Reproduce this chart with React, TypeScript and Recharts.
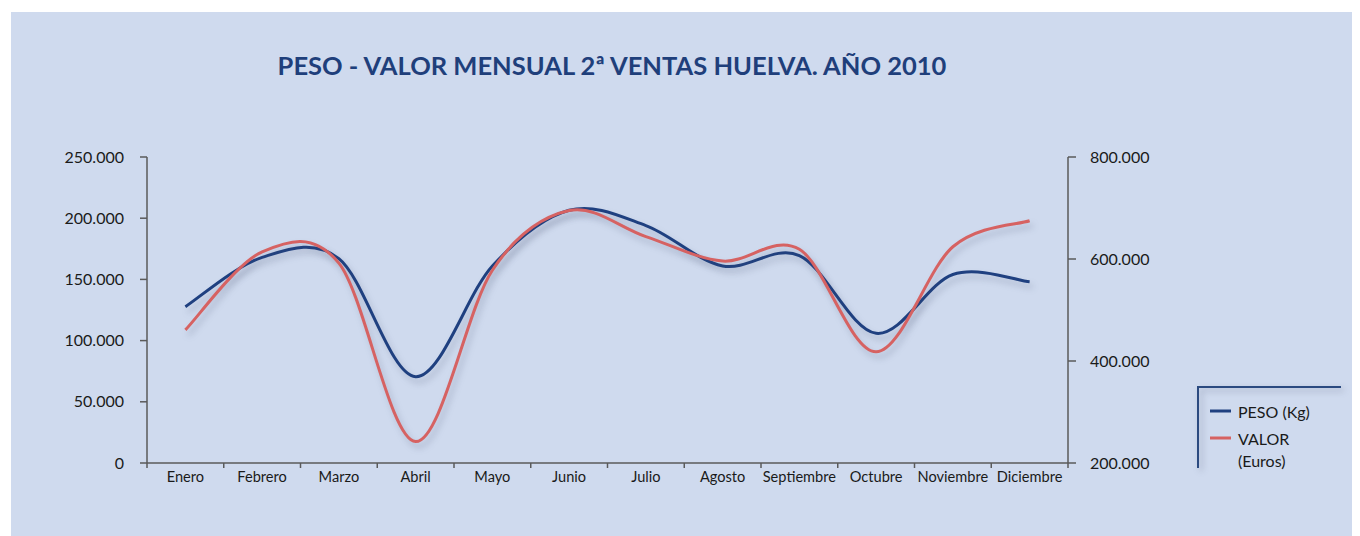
import React from 'react';
import { LineChart, Line, XAxis, YAxis } from 'recharts';

const MONTHS = [
  'Enero', 'Febrero', 'Marzo', 'Abril', 'Mayo', 'Junio',
  'Julio', 'Agosto', 'Septiembre', 'Octubre', 'Noviembre', 'Diciembre'
];

// PESO (Kg) - left axis
const PESO_KG = [127700, 168000, 167000, 70500, 161000, 206500, 194000, 161000, 169500, 106000, 154000, 148000];

// VALOR (Euros) - right axis
const VALOR_EUR = [461000, 614000, 592000, 242000, 578000, 695000, 644000, 596000, 619000, 418000, 624000, 675000];

const PESO_TICKS = [0, 50000, 100000, 150000, 200000, 250000];
const VALOR_TICKS = [200000, 400000, 600000, 800000];

const BLUE = '#1f4080';
const RED = '#d66262';
const AXIS = '#5a5a5a';
const TEXT = '#1a1a1a';
const FONT = 'Lato, "Open Sans", sans-serif';

const fmt = (v: number) => String(v).replace(/\B(?=(\d{3})+(?!\d))/g, '.');

// smooth line like the spreadsheet one (catmull-rom through every point)
const smoothCurve = (context: any) => {
  let pts: number[][] = [];
  return {
    areaStart() {},
    areaEnd() {},
    lineStart() {
      pts = [];
    },
    point(x: number, y: number) {
      pts.push([+x, +y]);
    },
    lineEnd() {
      if (!pts.length) return;
      context.moveTo(pts[0][0], pts[0][1]);
      for (let i = 0; i < pts.length - 1; i++) {
        const p0 = pts[i - 1] || pts[i];
        const p1 = pts[i];
        const p2 = pts[i + 1];
        const p3 = pts[i + 2] || p2;
        context.bezierCurveTo(
          p1[0] + (p2[0] - p0[0]) / 6,
          p1[1] + (p2[1] - p0[1]) / 6,
          p2[0] - (p3[0] - p1[0]) / 6,
          p2[1] - (p3[1] - p1[1]) / 6,
          p2[0],
          p2[1]
        );
      }
    }
  };
};

const MonthTick = (props: any) => {
  const { x, y, payload, index } = props;
  const half = payload && payload.offset ? payload.offset : 0;
  return (
    <g>
      <line x1={x - half} x2={x - half} y1={y - 9} y2={y - 4} stroke={AXIS} strokeWidth={1.5} />
      {index === MONTHS.length - 1 && (
        <line x1={x + half} x2={x + half} y1={y - 9} y2={y - 4} stroke={AXIS} strokeWidth={1.5} />
      )}
      <text x={x} y={y} dy="0.71em" textAnchor="middle" fill={TEXT} fontSize={14.6} fontFamily={FONT}>
        {payload.value}
      </text>
    </g>
  );
};

const App: React.FC = () => {
  const data = MONTHS.map((mes, i) => ({ mes, peso: PESO_KG[i], valor: VALOR_EUR[i] }));

  return (
    <div style={{ position: 'relative', width: 1360, height: 536, background: '#ffffff', overflow: 'hidden' }}>
      <style>{`
        body { margin: 0; }
        .shadow-line path { filter: drop-shadow(3px 5px 3px rgba(70, 80, 110, 0.28)); }
      `}</style>
      <div style={{ position: 'absolute', left: 11, top: 12, width: 1341, height: 524, background: '#cfdaee' }} />

      <div style={{ position: 'absolute', left: 0, top: 0 }}>
        <LineChart width={1360} height={536} data={data} margin={{ top: 157, right: 192, bottom: 43, left: 67 }}>
          <XAxis
            dataKey="mes"
            scale="band"
            interval={0}
            height={30}
            tickLine={false}
            tickSize={5}
            tickMargin={4}
            axisLine={{ stroke: AXIS, strokeWidth: 1.5 }}
            tick={<MonthTick />}
          />
          <YAxis
            yAxisId="peso"
            orientation="left"
            width={80}
            domain={[0, 250000]}
            ticks={PESO_TICKS}
            tickFormatter={fmt}
            tickSize={7}
            tickMargin={16}
            axisLine={{ stroke: AXIS, strokeWidth: 1.5 }}
            tickLine={{ stroke: AXIS, strokeWidth: 1.5 }}
            tick={{ fill: TEXT, fontSize: 16, fontFamily: FONT }}
          />
          <YAxis
            yAxisId="valor"
            orientation="right"
            width={100}
            domain={[200000, 800000]}
            ticks={VALOR_TICKS}
            tickFormatter={fmt}
            tickSize={8}
            tickMargin={14}
            axisLine={{ stroke: AXIS, strokeWidth: 1.5 }}
            tickLine={{ stroke: AXIS, strokeWidth: 1.5 }}
            tick={{ fill: TEXT, fontSize: 16, fontFamily: FONT }}
          />
          <Line
            yAxisId="peso"
            dataKey="peso"
            type={smoothCurve as any}
            stroke={BLUE}
            strokeWidth={3}
            dot={false}
            activeDot={false}
            className="shadow-line"
            isAnimationActive={false}
          />
          <Line
            yAxisId="valor"
            dataKey="valor"
            type={smoothCurve as any}
            stroke={RED}
            strokeWidth={3}
            dot={false}
            activeDot={false}
            className="shadow-line"
            isAnimationActive={false}
          />
        </LineChart>
      </div>

      {/* title + legend */}
      <svg width={1360} height={536} style={{ position: 'absolute', left: 0, top: 0, pointerEvents: 'none' }}>
        <text x={612} y={75} textAnchor="middle" fill="#1f3f7b" fontSize={25.5} fontWeight={700} fontFamily={FONT}>
          PESO - VALOR MENSUAL 2ª VENTAS HUELVA. AÑO 2010
        </text>
        <path
          d="M1198,468 L1198,387 L1341,387"
          fill="none"
          stroke="#2b4a80"
          strokeWidth={2}
          style={{ filter: 'drop-shadow(3px 3px 3px rgba(60, 70, 100, 0.35))' }}
        />
        <line x1={1210} x2={1231} y1={411} y2={411} stroke={BLUE} strokeWidth={3} />
        <text x={1238} y={418} fill={TEXT} fontSize={16} fontFamily={FONT}>PESO (Kg)</text>
        <line x1={1210} x2={1231} y1={438} y2={438} stroke={RED} strokeWidth={3} />
        <text x={1238} y={445} fill={TEXT} fontSize={16} fontFamily={FONT}>VALOR</text>
        <text x={1238} y={467} fill={TEXT} fontSize={16} fontFamily={FONT}>(Euros)</text>
      </svg>
    </div>
  );
};

export default App;
